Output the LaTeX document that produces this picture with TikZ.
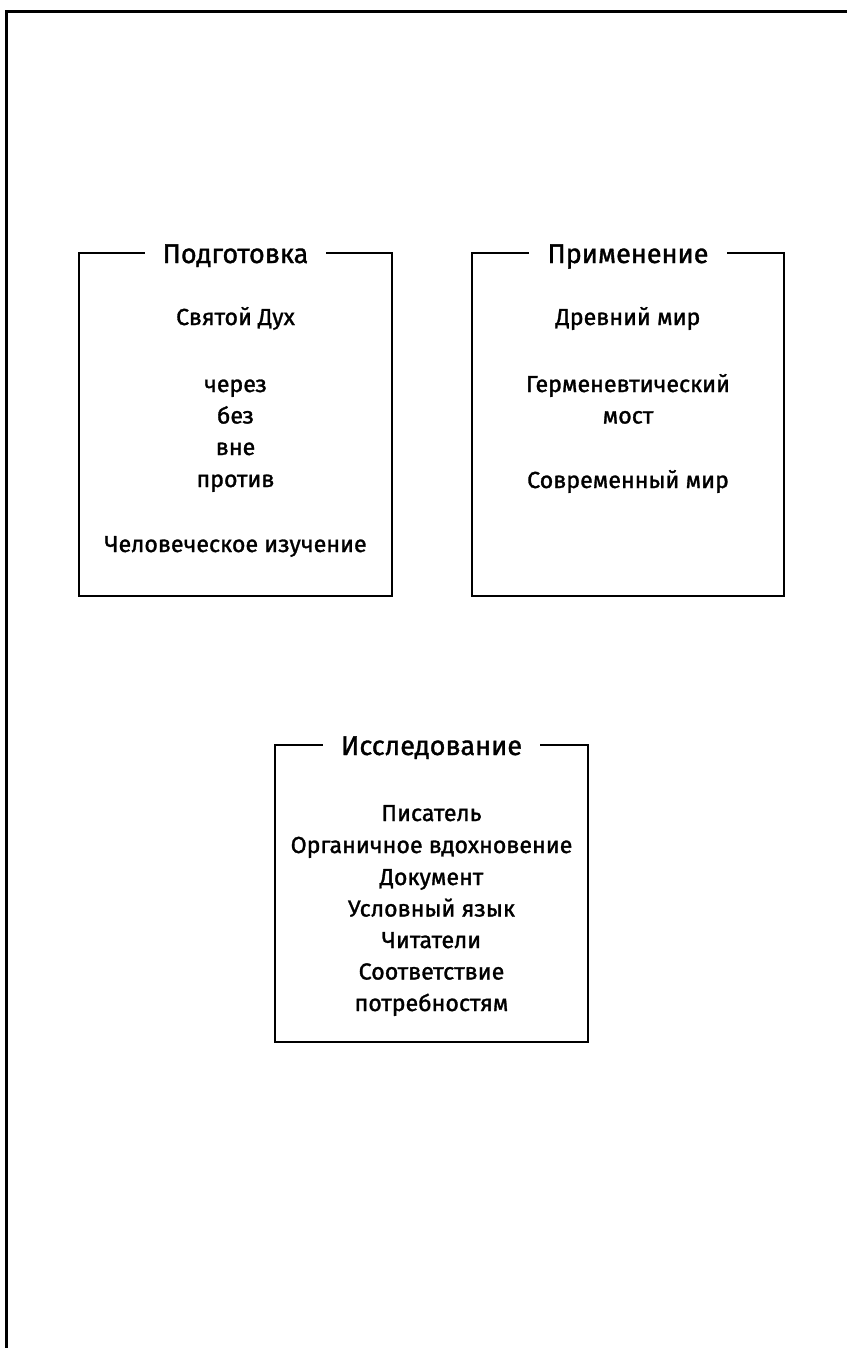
\documentclass[tikz,border=0pt]{standalone}
\usepackage{fontspec}
\setmainfont[FakeBold=1.3,AutoFakeBold=1.3]{Fira Sans}
\newfontfamily\medfont[FakeBold=1.3]{Fira Sans}
\begin{document}
\begin{tikzpicture}[x=1pt,y=-1pt,
  boxline/.style={line width=2pt, line cap=rect},
  framel/.style={line width=2.5pt},
  ttl/.style={font=\medfont\fontsize{27}{27}\selectfont, inner xsep=19pt, inner ysep=0pt, anchor=base},
  body/.style={font=\medfont\fontsize{23.2}{23.2}\selectfont, inner sep=0pt, anchor=base}
]
\fill[white] (0,0) rectangle (847,1348);
\useasboundingbox (0,0) rectangle (847,1348);
% outer frame
\coordinate (fl) at (6.5,1348);
\coordinate (ftl) at (6.5,11.5);
\coordinate (ftr) at (847,11.5);
\draw[framel] (fl) -- (ftl) -- (ftr);

% Box 1
\coordinate (a1) at (79,253);
\coordinate (a2) at (392,253);
\coordinate (a3) at (392,596);
\coordinate (a4) at (79,596);
\node[ttl] (t1) at (235.5,263) {Подготовка};
\draw[boxline] (t1.east |- a2) -- (a2) -- (a3) -- (a4) -- (a1) -- (t1.west |- a1);
\node[body] (p1) at (235.5,325) {Святой Дух};
\node[body] (p2) at (235.5,392) {через};
\node[body] (p3) at (235.5,423.5) {без};
\node[body] (p4) at (235.5,455) {вне};
\node[body] (p5) at (235.5,487) {против};
\node[body] (p6) at (235.5,552) {Человеческое изучение};

% Box 2
\coordinate (b1) at (472,253);
\coordinate (b2) at (784,253);
\coordinate (b3) at (784,596);
\coordinate (b4) at (472,596);
\node[ttl] (t2) at (628,263) {Применение};
\draw[boxline] (t2.east |- b2) -- (b2) -- (b3) -- (b4) -- (b1) -- (t2.west |- b1);
\node[body] (q1) at (628,325) {Древний мир};
\node[body] (q2) at (628,392) {Герменевтический};
\node[body] (q3) at (628,423.5) {мост};
\node[body] (q4) at (628,488) {Современный мир};

% Box 3
\coordinate (c1) at (275,745);
\coordinate (c2) at (588,745);
\coordinate (c3) at (588,1042);
\coordinate (c4) at (275,1042);
\node[ttl] (t3) at (431.5,755) {Исследование};
\draw[boxline] (t3.east |- c2) -- (c2) -- (c3) -- (c4) -- (c1) -- (t3.west |- c1);
\node[body] (r1) at (431.5,821) {Писатель};
\node[body] (r2) at (431.5,853) {Органичное вдохновение};
\node[body] (r3) at (431.5,885) {Документ};
\node[body] (r4) at (431.5,916.5) {Условный язык};
\node[body] (r5) at (431.5,948) {Читатели};
\node[body] (r6) at (431.5,979.5) {Соответствие};
\node[body] (r7) at (431.5,1011) {потребностям};
\end{tikzpicture}
\end{document}
